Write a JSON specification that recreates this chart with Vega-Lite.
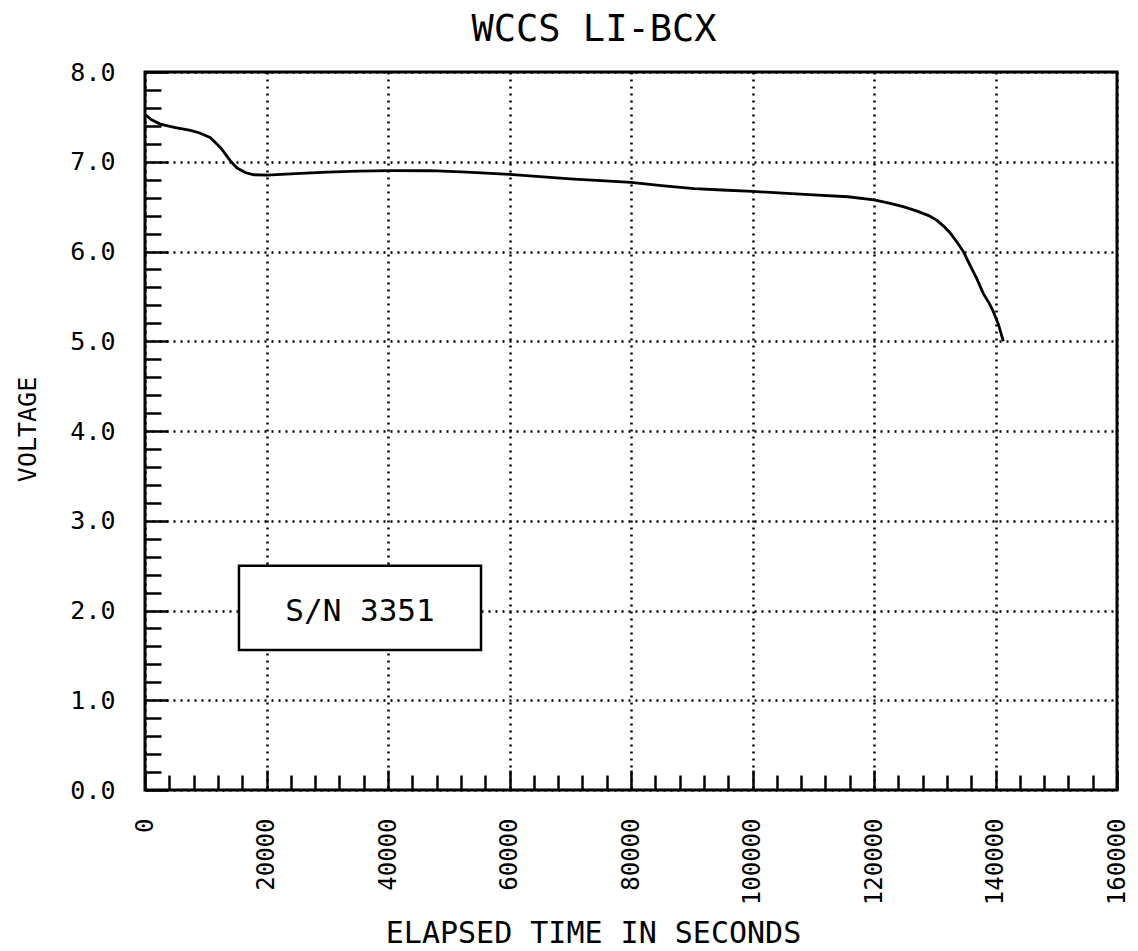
{
  "$schema": "https://vega.github.io/schema/vega-lite/v6.json",
  "width": 972,
  "height": 718,
  "autosize": {"type": "none"},
  "padding": {"left": 145, "top": 72, "right": 21, "bottom": 161},
  "background": "white",
  "config": {
    "view": {"stroke": "black", "strokeWidth": 3},
    "font": "DejaVu Sans Mono",
    "axis": {"labelColor": "black", "titleColor": "black", "tickColor": "black", "gridColor": "black", "gridOpacity": 1, "labelFont": "DejaVu Sans Mono", "titleFont": "DejaVu Sans Mono", "titleFontWeight": "normal"}
  },
  "title": {"text": "WCCS LI-BCX", "fontSize": 37, "font": "DejaVu Sans Mono", "fontWeight": "normal", "color": "black", "anchor": "middle", "frame": "group", "dx": -37, "offset": 11},
  "data": {"values": [
    {"t": 0, "v": 7.53},
    {"t": 1000, "v": 7.47},
    {"t": 2500, "v": 7.42},
    {"t": 5000, "v": 7.38},
    {"t": 7500, "v": 7.35},
    {"t": 9000, "v": 7.32},
    {"t": 10700, "v": 7.27},
    {"t": 11500, "v": 7.22},
    {"t": 12400, "v": 7.16},
    {"t": 13300, "v": 7.08},
    {"t": 14050, "v": 7.01},
    {"t": 15150, "v": 6.93},
    {"t": 16500, "v": 6.88},
    {"t": 17900, "v": 6.855},
    {"t": 20100, "v": 6.85},
    {"t": 25600, "v": 6.87},
    {"t": 30000, "v": 6.885},
    {"t": 35000, "v": 6.895},
    {"t": 40500, "v": 6.9},
    {"t": 47000, "v": 6.9},
    {"t": 53000, "v": 6.885},
    {"t": 60000, "v": 6.86},
    {"t": 65000, "v": 6.835},
    {"t": 70000, "v": 6.81},
    {"t": 75000, "v": 6.79},
    {"t": 80000, "v": 6.77},
    {"t": 85000, "v": 6.735},
    {"t": 90400, "v": 6.7},
    {"t": 95000, "v": 6.685},
    {"t": 100000, "v": 6.67},
    {"t": 105000, "v": 6.65},
    {"t": 110000, "v": 6.63},
    {"t": 115700, "v": 6.61},
    {"t": 120000, "v": 6.575},
    {"t": 122500, "v": 6.54},
    {"t": 124800, "v": 6.5},
    {"t": 127100, "v": 6.45},
    {"t": 129000, "v": 6.4},
    {"t": 130300, "v": 6.35},
    {"t": 131500, "v": 6.28},
    {"t": 132500, "v": 6.21},
    {"t": 133500, "v": 6.12},
    {"t": 134700, "v": 6.0},
    {"t": 136000, "v": 5.82},
    {"t": 136900, "v": 5.7},
    {"t": 138000, "v": 5.53},
    {"t": 139000, "v": 5.42},
    {"t": 139650, "v": 5.33},
    {"t": 140470, "v": 5.19},
    {"t": 141290, "v": 5.0}
  ]},
  "layer": [
    {
      "mark": {"type": "line", "color": "black", "strokeWidth": 2.8},
      "encoding": {
        "x": {"field": "t", "type": "quantitative", "scale": {"domain": [0, 160000], "nice": false, "zero": false},
          "axis": {"orient": "bottom", "values": [0, 20000, 40000, 60000, 80000, 100000, 120000, 140000, 160000], "format": "d", "labelAngle": 270, "labelAlign": "right", "labelBaseline": "middle", "labelPadding": 48, "labelFontSize": 24, "labelFlush": false, "labelOverlap": false, "tickSize": -20, "tickWidth": 2.5, "grid": true, "gridDash": [2, 5], "gridWidth": 2.5, "domain": false, "title": "ELAPSED TIME IN SECONDS", "titleFontSize": 30, "titleX": 448, "titleY": 152, "titleBaseline": "alphabetic", "titleAlign": "center"}},
        "y": {"field": "v", "type": "quantitative", "scale": {"domain": [0, 8], "nice": false},
          "axis": {"orient": "left", "values": [0, 1, 2, 3, 4, 5, 6, 7, 8], "format": ".1f", "labelPadding": 53, "labelFontSize": 25, "labelFlush": false, "labelOverlap": false, "labelBaseline": "middle", "tickSize": -23, "tickWidth": 2.5, "grid": true, "gridDash": [2, 5], "gridWidth": 2.5, "domain": false, "title": "VOLTAGE", "titleFontSize": 25, "titleX": -110, "titleY": 357, "titleAngle": 270, "titleBaseline": "alphabetic", "titleAlign": "center"}}
      }
    },
    {
      "mark": {"type": "line", "opacity": 0},
      "encoding": {
        "x": {"field": "t", "type": "quantitative",
          "axis": {"orient": "bottom", "values": [4000, 8000, 12000, 16000, 24000, 28000, 32000, 36000, 44000, 48000, 52000, 56000, 64000, 68000, 72000, 76000, 84000, 88000, 92000, 96000, 104000, 108000, 112000, 116000, 124000, 128000, 132000, 136000, 144000, 148000, 152000, 156000], "labels": false, "tickSize": -15, "tickWidth": 2.5, "grid": false, "domain": false, "title": null}},
        "y": {"field": "v", "type": "quantitative",
          "axis": {"orient": "left", "values": [0.2, 0.4, 0.6, 0.8, 1.2, 1.4, 1.6, 1.8, 2.2, 2.4, 2.6, 2.8, 3.2, 3.4, 3.6, 3.8, 4.2, 4.4, 4.6, 4.8, 5.2, 5.4, 5.6, 5.8, 6.2, 6.4, 6.6, 6.8, 7.2, 7.4, 7.6, 7.8], "labels": false, "tickSize": -16, "tickWidth": 2.5, "grid": false, "domain": false, "title": null}}
      }
    },
    {
      "data": {"values": [{"label": "S/N 3351"}]},
      "mark": {"type": "rect", "fill": "white", "stroke": "black", "strokeWidth": 2.5},
      "encoding": {
        "x": {"datum": 15470, "type": "quantitative", "axis": null},
        "x2": {"datum": 55310},
        "y": {"datum": 2.5, "type": "quantitative", "axis": null},
        "y2": {"datum": 1.56}
      }
    },
    {
      "data": {"values": [{"label": "S/N 3351"}]},
      "mark": {"type": "text", "font": "DejaVu Sans Mono", "fontSize": 31, "color": "black", "align": "center", "baseline": "middle"},
      "encoding": {
        "x": {"datum": 35390, "type": "quantitative", "axis": null},
        "y": {"datum": 1.98, "type": "quantitative", "axis": null},
        "text": {"field": "label"}
      }
    }
  ],
  "resolve": {"axis": {"x": "independent", "y": "independent"}}
}
